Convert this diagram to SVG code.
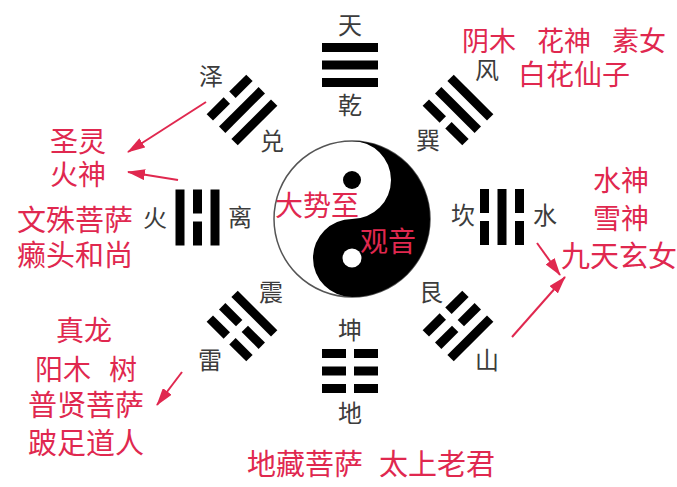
<svg xmlns="http://www.w3.org/2000/svg" xmlns:xlink="http://www.w3.org/1999/xlink" width="677" height="487" viewBox="0 0 677 487">
<style>
.lbl{font-family:"Noto Sans CJK SC","Noto Sans CJK JP",sans-serif;font-size:24px;fill:#3c3c3c;text-anchor:middle}
.red{font-family:"Noto Sans CJK SC","Noto Sans CJK JP",sans-serif;font-size:28px;fill:#e0284f}
.mid{text-anchor:middle}
.bar{fill:#000}
.arrow{stroke:#e0284f;stroke-width:2;fill:none;marker-end:url(#ah)}
</style>
<defs>
<rect id="S" class="bar" x="-28" width="56" height="9"/>
<g id="B" class="bar"><rect x="-28" width="24" height="9"/><rect x="4" width="24" height="9"/></g>
<marker id="ah" viewBox="0 0 18 11" refX="17" refY="5.5" markerWidth="18" markerHeight="11" markerUnits="userSpaceOnUse" orient="auto">
<path d="M0,0 L18,5.5 L0,11 Z" fill="#e0284f"/>
</marker>
</defs>
<rect width="677" height="487" fill="#fff"/>

<g id="taiji">
<circle cx="352" cy="219" r="78" fill="#fff" stroke="#555" stroke-width="1.5"/>
<path d="M352,141 A78,78 0 0 1 352,297 A39,39 0 0 1 352,219 A39,39 0 0 0 352,141 Z" fill="#000"/>
<circle cx="352" cy="180" r="9" fill="#000"/>
<circle cx="352" cy="258" r="9.5" fill="#fff"/>
<text class="red" x="275" y="216">大势至</text>
<text class="red" x="360" y="252">观音</text>
</g>

<g id="qian" transform="translate(350,65)">
<use xlink:href="#S" y="-22"/><use xlink:href="#S" y="-4.5"/><use xlink:href="#S" y="13"/>
</g>
<g id="xun" transform="translate(458,110) rotate(45)">
<use xlink:href="#S" y="-22"/><use xlink:href="#S" y="-4.5"/><use xlink:href="#B" y="13"/>
</g>
<g id="kan" transform="translate(502,217) rotate(90)">
<use xlink:href="#B" y="-22"/><use xlink:href="#S" y="-4.5"/><use xlink:href="#B" y="13"/>
</g>
<g id="gen" transform="translate(458,326) rotate(135)">
<use xlink:href="#S" y="-22"/><use xlink:href="#B" y="-4.5"/><use xlink:href="#B" y="13"/>
</g>
<g id="kun" transform="translate(350,371) rotate(180)">
<use xlink:href="#B" y="-22"/><use xlink:href="#B" y="-4.5"/><use xlink:href="#B" y="13"/>
</g>
<g id="zhen" transform="translate(242,326) rotate(225)">
<use xlink:href="#B" y="-22"/><use xlink:href="#B" y="-4.5"/><use xlink:href="#S" y="13"/>
</g>
<g id="li" transform="translate(197.5,217.5) rotate(270)">
<use xlink:href="#S" y="-22"/><use xlink:href="#B" y="-4.5"/><use xlink:href="#S" y="13"/>
</g>
<g id="dui" transform="translate(242,110) rotate(315)">
<use xlink:href="#B" y="-22"/><use xlink:href="#S" y="-4.5"/><use xlink:href="#S" y="13"/>
</g>

<g id="labels">
<text class="lbl" x="350" y="34">天</text>
<text class="lbl" x="350" y="114">乾</text>
<text class="lbl" x="350" y="339">坤</text>
<text class="lbl" x="350" y="422">地</text>
<text class="lbl" x="155" y="227">火</text>
<text class="lbl" x="240" y="226">离</text>
<text class="lbl" x="463" y="224">坎</text>
<text class="lbl" x="545" y="224">水</text>
<text class="lbl" x="211" y="85">泽</text>
<text class="lbl" x="272" y="150">兑</text>
<text class="lbl" x="428" y="149">巽</text>
<text class="lbl" x="487" y="79">风</text>
<text class="lbl" x="271" y="301">震</text>
<text class="lbl" x="210" y="369">雷</text>
<text class="lbl" x="431" y="301">艮</text>
<text class="lbl" x="487" y="369">山</text>
</g>

<g id="notes-ne">
<text class="red" y="51" style="font-size:27px"><tspan x="462">阴木</tspan><tspan x="537">花神</tspan><tspan x="612">素女</tspan></text>
<text class="red" x="518" y="85">白花仙子</text>
</g>
<g id="notes-w">
<text class="red mid" x="78" y="152">圣灵</text>
<text class="red mid" x="78" y="185">火神</text>
<text class="red" x="17" y="231" style="font-size:29px">文殊菩萨</text>
<text class="red" x="17" y="266" style="font-size:29px">癞头和尚</text>
</g>
<g id="notes-sw">
<text class="red mid" x="84" y="341">真龙</text>
<text class="red" y="380"><tspan x="35">阳木</tspan><tspan x="109">树</tspan></text>
<text class="red" x="28" y="416" style="font-size:29px">普贤菩萨</text>
<text class="red" x="28" y="454" style="font-size:29px">跛足道人</text>
</g>
<g id="notes-s">
<text class="red" y="475" style="font-size:29px"><tspan x="247">地藏菩萨</tspan><tspan x="379">太上老君</tspan></text>
</g>
<g id="notes-e">
<text class="red" x="593" y="191">水神</text>
<text class="red" x="593" y="229">雪神</text>
<text class="red" x="561" y="267" style="font-size:29px">九天玄女</text>
</g>

<g id="connectors">
<line class="arrow" x1="206" y1="102" x2="128" y2="152"/>
<line class="arrow" x1="178" y1="180" x2="128" y2="172"/>
<line class="arrow" x1="182" y1="372" x2="157" y2="405"/>
<line class="arrow" x1="537" y1="243" x2="560" y2="275"/>
<line class="arrow" x1="512" y1="337" x2="565" y2="277"/>
</g>
</svg>
